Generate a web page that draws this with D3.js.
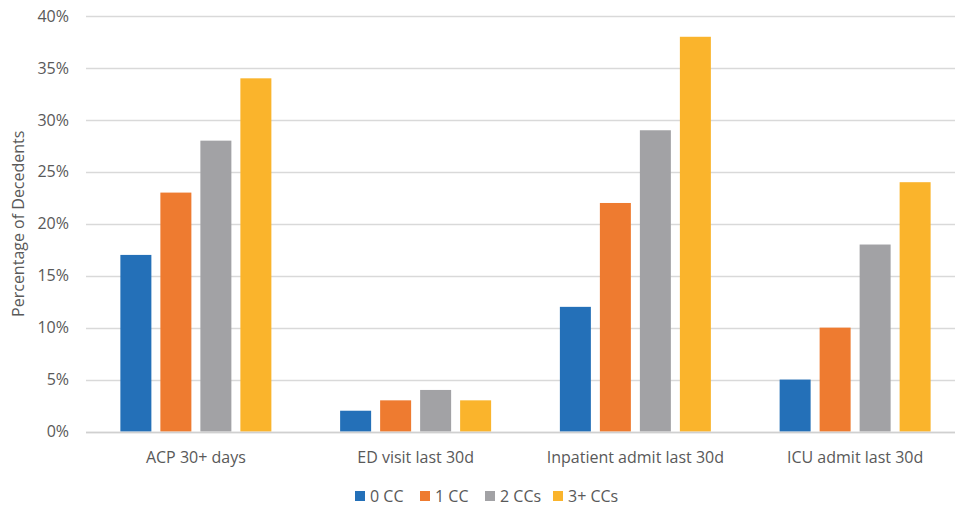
<!DOCTYPE html>
<html>
<head>
<meta charset="utf-8">
<script src="https://cdn.jsdelivr.net/npm/d3@7"></script>
<style>
  html, body { margin: 0; padding: 0; background: #fff; }
  svg { display: block; }
  text { font-family: "Open Sans", Lato, sans-serif; fill: #595959; }
</style>
</head>
<body>
<svg id="chart" width="955" height="506"></svg>
<script>
// Outcome categories along the x axis
const categories = ["ACP 30+ days", "ED visit last 30d", "Inpatient admit last 30d", "ICU admit last 30d"];
// Series: number of chronic conditions
const seriesNames = ["0 CC", "1 CC", "2 CCs", "3+ CCs"];
const seriesColors = ["#2470B8", "#EE7B30", "#A2A2A5", "#FAB42C"];
// Percent of decedents, one array per series (in category order)
const cc0 = [17, 2, 12, 5];
const cc1 = [23, 3, 22, 10];
const cc2 = [28, 4, 29, 18];
const cc3 = [34, 3, 38, 24];
const yTicks = [0, 5, 10, 15, 20, 25, 30, 35, 40];

const seriesValues = [cc0, cc1, cc2, cc3];

const svg = d3.select("#chart");
const plot = { left: 86, right: 965, top: 16, bottom: 431.5 };
const groupWidth = 151;
const fontFamily = "'Open Sans', Lato, sans-serif";

const x0 = d3.scaleBand().domain(categories).range([plot.left, plot.right]);
const x1 = d3.scaleBand().domain(seriesNames).range([0, groupWidth]).paddingInner(0.225).paddingOuter(0);
const y = d3.scaleLinear().domain([0, 40]).range([plot.bottom, plot.top]);

// Horizontal gridlines
svg.append("g")
  .selectAll("line")
  .data(yTicks)
  .join("line")
  .attr("x1", plot.left)
  .attr("x2", plot.right)
  .attr("y1", d => Math.round(y(d)) + 0.5)
  .attr("y2", d => Math.round(y(d)) + 0.5)
  .attr("stroke", "#D9D9D9")
  .attr("stroke-width", 1.4);

// Y axis tick labels
const yAxis = d3.axisLeft(y).tickValues(yTicks).tickFormat(d => d + "%").tickSize(0).tickPadding(0);
const yg = svg.append("g").attr("transform", "translate(69,0)").call(yAxis);
yg.select(".domain").remove();
yg.selectAll("text").style("font-size", "16px").style("font-family", fontFamily).attr("fill", "#595959");

// Bars
const groups = svg.append("g")
  .selectAll("g")
  .data(categories)
  .join("g")
  .attr("transform", d => `translate(${x0(d) + (x0.bandwidth() - groupWidth) / 2},0)`);

groups.selectAll("rect")
  .data((c, ci) => seriesNames.map((s, si) => ({ s, si, v: seriesValues[si][ci] })))
  .join("rect")
  .attr("x", d => x1(d.s))
  .attr("width", x1.bandwidth())
  .attr("y", d => y(d.v))
  .attr("height", d => y(0) - y(d.v))
  .attr("fill", d => seriesColors[d.si]);

// Baseline
svg.append("line")
  .attr("x1", plot.left).attr("x2", plot.right)
  .attr("y1", Math.round(y(0)) + 0.5).attr("y2", Math.round(y(0)) + 0.5)
  .attr("stroke", "#D0D0D0").attr("stroke-width", 1.4);

// Category labels
const xAxis = d3.axisBottom(x0).tickSize(0).tickPadding(0);
const xg = svg.append("g").attr("transform", "translate(0,451.5)").call(xAxis);
xg.select(".domain").remove();
xg.selectAll("text").style("font-size", "16px").style("font-family", fontFamily).attr("fill", "#595959");

// Y axis title
svg.append("text")
  .attr("transform", `translate(24,${(plot.top + plot.bottom) / 2}) rotate(-90)`)
  .attr("text-anchor", "middle")
  .style("font-size", "16px")
  .text("Percentage of Decedents");

// Legend
const legendX = [355, 420, 485, 553];
const legend = svg.append("g")
  .selectAll("g")
  .data(seriesNames)
  .join("g")
  .attr("transform", (d, i) => `translate(${legendX[i]},491)`);
legend.append("rect")
  .attr("width", 10).attr("height", 10)
  .attr("fill", (d, i) => seriesColors[i]);
legend.append("text")
  .attr("x", 15).attr("y", 10.5)
  .style("font-size", "16px")
  .text(d => d);
</script>
</body>
</html>
